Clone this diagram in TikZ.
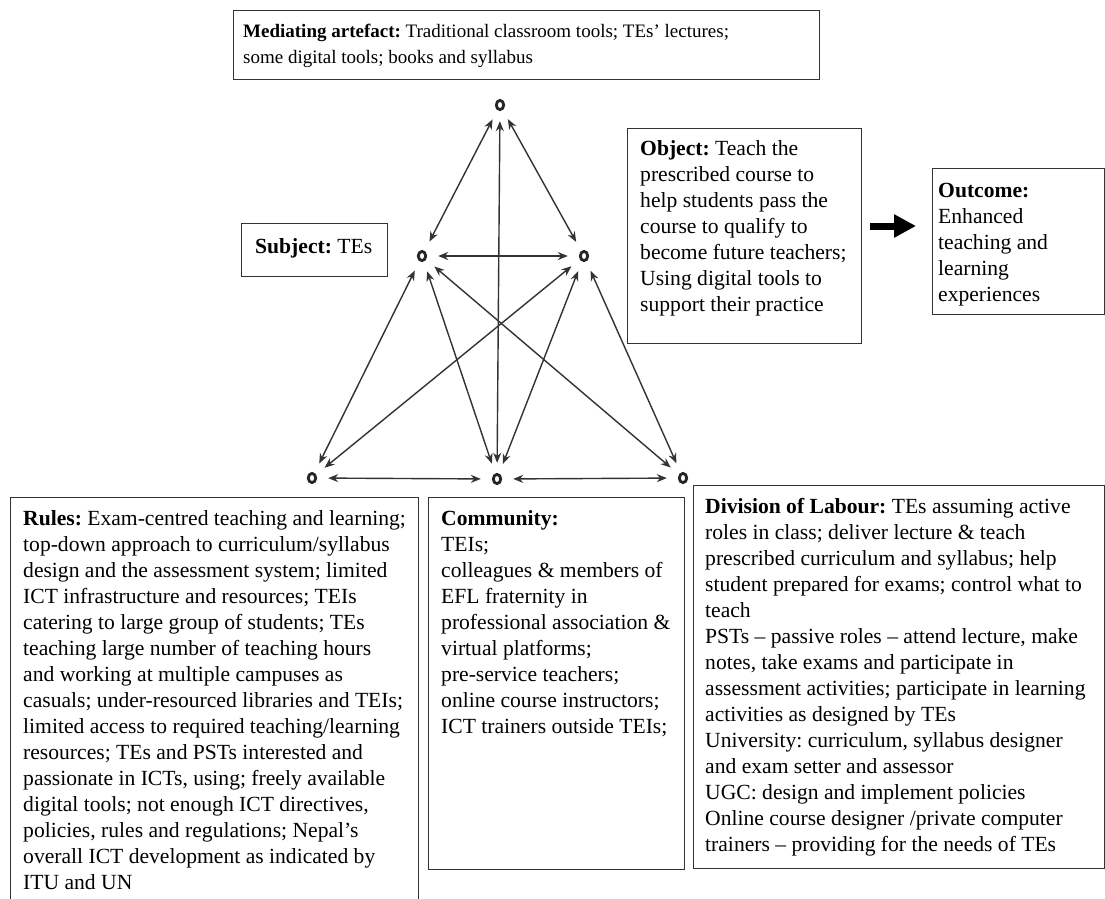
\documentclass[tikz,border=0pt]{standalone}
\usepackage{fontspec}
\setmainfont{Liberation Serif}
\usetikzlibrary{arrows.meta}
\begin{document}
\frenchspacing
\begin{tikzpicture}[x=1pt,y=-1pt,
  box/.style={draw=black!80, line width=1.2pt, inner sep=0pt, anchor=north west},
  txt/.style={anchor=north west, inner sep=0pt, align=left,
              font=\fontsize{21.6}{26}\selectfont, text=black},
  medfont/.style={font=\fontsize{19}{26}\selectfont},
  vertex/.style={circle, minimum size=32pt, inner sep=0pt},
  ring/.style={line width=2.8pt, draw=black!85},
  link/.style={line width=1.4pt, draw=black!80,
               {Stealth[length=10pt,width=8pt]}-{Stealth[length=10pt,width=8pt]}},
  bigarrow/.style={line width=7pt, draw=black, -{Triangle[length=22pt,width=22pt]}}
]
\useasboundingbox (0,0) rectangle (1105,898);
\fill[white] (0,0) rectangle (1105,898);
\clip (0,0) rectangle (1105,898);

% ---- text boxes ----
\node[box, minimum width=586pt, minimum height=69pt]  (medbox) at (233,10)  {};
\node[box, minimum width=146pt, minimum height=53pt]  (subbox) at (241,223) {};
\node[box, minimum width=234pt, minimum height=215pt] (objbox) at (627,128) {};
\node[box, minimum width=172pt, minimum height=146pt] (outbox) at (932,168) {};
\node[box, minimum width=408pt, minimum height=420pt] (rulbox) at (10,497)  {};
\node[box, minimum width=256pt, minimum height=372pt] (combox) at (428,497) {};
\node[box, minimum width=411pt, minimum height=383pt] (divbox) at (693,485) {};

\node[txt, medfont] (medtxt) at (243,18.8) {\strut\textbf{Mediating artefact:} Traditional classroom tools; TEs’ lectures;\\
some digital tools; books and syllabus};

\node[txt] (subtxt) at (255,234.8) {\strut\textbf{Subject:} TEs};

\node[txt] (objtxt) at (640,136.8) {\strut\textbf{Object:} Teach the\\
prescribed course to\\
help students pass the\\
course to qualify to\\
become future teachers;\\
Using digital tools to\\
support their practice};

\node[txt] (outtxt) at (938,178.8) {\strut\textbf{Outcome:}\\
Enhanced\\
teaching and\\
learning\\
experiences};

\node[txt] (rultxt) at (23,506.8) {\strut\textbf{Rules:} Exam-centred teaching and learning;\\
top-down approach to curriculum/syllabus\\
design and the assessment system; limited\\
ICT infrastructure and resources; TEIs\\
catering to large group of students; TEs\\
teaching large number of teaching hours\\
and working at multiple campuses as\\
casuals; under-resourced libraries and TEIs;\\
limited access to required teaching/learning\\
resources; TEs and PSTs interested and\\
passionate in ICTs, using; freely available\\
digital tools; not enough ICT directives,\\
policies, rules and regulations; Nepal’s\\
overall ICT development as indicated by\\
ITU and UN};

\node[txt] (comtxt) at (441,506.8) {\strut\textbf{Community:}\\
TEIs;\\
colleagues \& members of\\
EFL fraternity in\\
professional association \&\\
virtual platforms;\\
pre-service teachers;\\
online course instructors;\\
ICT trainers outside TEIs;};

\node[txt] (divtxt) at (705,494.8) {\strut\textbf{Division of Labour:} TEs assuming active\\
roles in class; deliver lecture \& teach\\
prescribed curriculum and syllabus; help\\
student prepared for exams; control what to\\
teach\\
PSTs – passive roles – attend lecture, make\\
notes, take exams and participate in\\
assessment activities; participate in learning\\
activities as designed by TEs\\
University: curriculum, syllabus designer\\
and exam setter and assessor\\
UGC: design and implement policies\\
Online course designer /private computer\\
trainers – providing for the needs of TEs};

% ---- arrow towards the outcome ----
\coordinate (arrS) at (870,226);
\coordinate (arrE) at (916,226);
\draw[bigarrow] (arrS) -- (arrE);

% ---- activity-system triangle ----
\node[vertex] (T) at (500,105) {};
\node[vertex] (S) at (422,256) {};
\node[vertex] (O) at (584,256) {};
\node[vertex] (R) at (312,478) {};
\node[vertex] (C) at (497,479) {};
\node[vertex] (D) at (683,478) {};

\foreach \v in {T,S,O,R,C,D}
  \draw[ring] (\v) ellipse (3.7pt and 4.6pt);

\draw[link] (T) -- (S);
\draw[link] (T) -- (O);
\draw[link] (T) -- (C);
\draw[link] (S) -- (O);
\draw[link] (S) -- (R);
\draw[link] (S) -- (C);
\draw[link] (S) -- (D);
\draw[link] (O) -- (R);
\draw[link] (O) -- (C);
\draw[link] (O) -- (D);
\draw[link] (R) -- (C);
\draw[link] (C) -- (D);
\end{tikzpicture}
\end{document}
